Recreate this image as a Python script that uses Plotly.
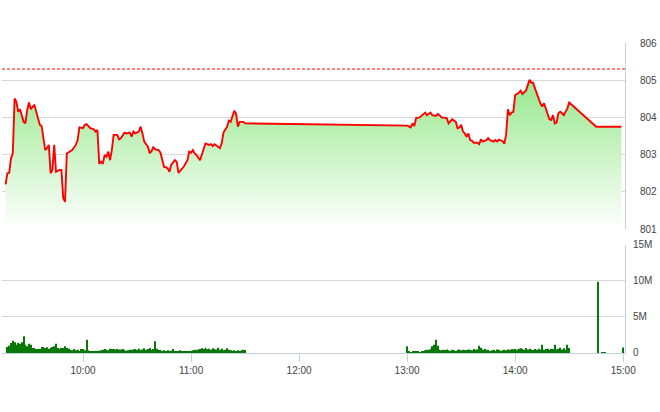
import pandas as pd
import plotly.graph_objects as go

DAY = "2024-01-02 "

# ---------------- data ----------------
ref_price = 805.3

price_times_am = [
    "09:17", "09:18", "09:19", "09:20", "09:21", "09:22", "09:23", "09:24", "09:25", "09:26",
    "09:27", "09:28", "09:29", "09:30", "09:31", "09:32", "09:33",
    "09:35", "09:36", "09:37", "09:38", "09:39", "09:40", "09:41", "09:42", "09:43", "09:44", "09:45",
    "09:47", "09:48", "09:49", "09:50", "09:51",
    "09:53", "09:54",
    "09:56", "09:57", "09:58",
    "10:00", "10:01", "10:02",
    "10:04",
    "10:06", "10:07", "10:08", "10:09", "10:10", "10:11", "10:12", "10:13", "10:14", "10:15", "10:16", "10:17",
    "10:19", "10:20", "10:21",
    "10:23", "10:24",
    "10:26", "10:27", "10:28", "10:29",
    "10:31", "10:32", "10:33", "10:34",
    "10:36", "10:37", "10:38", "10:39", "10:40",
    "10:42", "10:43",
    "10:45", "10:46", "10:47", "10:48", "10:49",
    "10:51", "10:52", "10:53",
    "10:55", "10:56",
    "10:58", "10:59", "11:00", "11:01", "11:02", "11:03",
    "11:05", "11:06", "11:07", "11:08",
    "11:10", "11:11", "11:12", "11:13",
    "11:15", "11:16", "11:17", "11:18",
    "11:20", "11:21", "11:22", "11:23", "11:24", "11:25", "11:26", "11:27",
    "11:29", "11:30",
]
price_am = [
    802.20, 802.50, 802.51, 802.90, 803.03, 804.51, 804.42, 804.15, 804.22, 804.06,
    803.88, 803.84, 804.20, 804.40, 804.22, 804.29, 804.33,
    803.98, 803.80, 803.77, 803.39, 803.12, 803.17, 803.26, 802.50, 802.59, 803.26, 802.54,
    802.59, 802.59, 801.83, 801.73, 803.03,
    803.08, 803.12,
    803.26, 803.39, 803.73,
    803.71, 803.80, 803.82,
    803.71,
    803.68, 803.62, 803.66, 802.75, 802.81, 802.75, 802.99, 802.94, 803.08, 802.85, 803.12, 803.53,
    803.53, 803.41, 803.44,
    803.59, 803.57,
    803.59, 803.48, 803.62, 803.57,
    803.62, 803.75, 803.57, 803.35,
    803.21, 803.05, 803.08, 803.21, 803.14,
    803.12, 803.05,
    802.67, 802.66, 802.63, 802.54, 802.72,
    802.85, 802.81, 802.51,
    802.63, 802.68,
    802.85, 803.08, 803.05, 803.12, 803.03, 802.99,
    802.85, 802.99, 803.17, 803.30,
    803.26, 803.28, 803.23, 803.28,
    803.21, 803.17, 803.30, 803.59,
    803.75, 803.91, 803.88, 804.06, 804.18, 804.10, 803.75, 803.88,
    803.88, 803.84,
]

price_times_pm = [
    "13:00", "13:02", "13:03", "13:04", "13:05", "13:07", "13:08", "13:10", "13:11", "13:13",
    "13:14", "13:16", "13:17", "13:18", "13:19", "13:21", "13:22", "13:23", "13:24", "13:25",
    "13:27", "13:28", "13:29", "13:30", "13:31", "13:32", "13:33", "13:34", "13:35", "13:36",
    "13:37", "13:39", "13:40", "13:41", "13:42", "13:44", "13:45", "13:46", "13:48", "13:49",
    "13:50", "13:51", "13:53", "13:54", "13:55", "13:56", "13:57", "13:58", "13:59", "14:00",
    "14:01", "14:02", "14:03", "14:04", "14:06", "14:07", "14:08", "14:09", "14:10", "14:11",
    "14:12", "14:13", "14:14", "14:15", "14:16", "14:17", "14:18", "14:19", "14:20", "14:21",
    "14:22", "14:23", "14:24", "14:25", "14:26", "14:27", "14:29", "14:30", "14:45", "14:59",
]
price_pm = [
    803.78, 803.73, 803.84, 803.77, 803.98, 804.00, 804.04, 804.13, 804.06, 804.13,
    804.06, 804.04, 804.09, 804.06, 804.00, 803.98, 803.98, 803.84, 803.91, 803.95,
    803.88, 803.71, 803.73, 803.80, 803.62, 803.57, 803.48, 803.57, 803.39, 803.37,
    803.32, 803.32, 803.28, 803.41, 803.35, 803.39, 803.44, 803.39, 803.35, 803.39,
    803.35, 803.40, 803.36, 803.29, 803.55, 804.22, 804.06, 804.13, 804.15, 804.60,
    804.63, 804.66, 804.72, 804.63, 804.72, 804.84, 805.01, 804.93, 804.93, 804.78,
    804.65, 804.49, 804.38, 804.29, 804.38, 804.24, 804.11, 803.95, 803.93, 804.06,
    803.84, 803.86, 804.11, 804.15, 804.11, 804.06, 804.24, 804.40, 803.75, 803.75,
]

# volume in millions, one bar per minute from the start time
vol_am_start = "09:18"
vol_am = [
    0.83, 1.02, 1.39, 1.71, 1.48, 1.16, 1.39, 1.30, 1.48, 2.31,
    1.16, 0.93, 1.30, 1.16, 0.69, 0.69, 0.56, 0.56, 0.56, 0.83,
    0.83, 0.69, 0.79, 0.60, 0.69, 0.83, 0.93, 1.30, 0.69, 0.56,
    0.69, 0.69, 0.93, 0.69, 0.60, 0.46, 0.37, 0.56, 0.37, 0.46,
    0.28, 0.56, 0.56, 0.37, 1.85, 0.37, 0.28, 0.23, 0.28, 0.32,
    0.23, 0.30, 0.37, 0.46, 0.56, 0.46, 0.37, 0.60, 0.56, 0.56,
    0.46, 0.56, 0.50, 0.50, 0.56, 0.40, 0.30, 0.37, 0.46, 0.40,
    0.50, 0.56, 0.46, 0.60, 0.37, 0.50, 0.65, 0.46, 0.56, 0.70,
    0.46, 0.56, 1.62, 0.60, 0.40, 0.46, 0.30, 0.37, 0.28, 0.37,
    0.28, 0.30, 0.56, 0.28, 0.23, 0.28, 0.37, 0.28, 0.23, 0.28,
    0.23, 0.28, 0.30, 0.37, 0.46, 0.37, 0.50, 0.56, 0.65, 0.60,
    0.74, 0.56, 0.60, 0.46, 0.65, 0.56, 0.50, 0.74, 0.46, 0.60,
    0.37, 0.46, 0.65, 0.46, 0.37, 0.30, 0.37, 0.28, 0.37, 0.30,
    0.37, 0.46, 0.40,
]
vol_pm_start = "13:00"
vol_pm = [
    0.93, 0.23, 0.14, 0.23, 0.19, 0.28, 0.19, 0.14, 0.23, 0.28,
    0.37, 0.46, 0.46, 0.60, 0.93, 1.16, 1.85, 1.00, 0.46, 0.37,
    0.46, 0.40, 0.50, 0.37, 0.30, 0.46, 0.37, 0.28, 0.40, 0.50,
    0.37, 0.46, 0.40, 0.37, 0.50, 0.46, 0.37, 0.56, 0.46, 0.50,
    1.02, 0.74, 0.46, 0.56, 0.37, 0.46, 0.28, 0.37, 0.46, 0.28,
    0.50, 0.46, 0.30, 0.37, 0.46, 0.37, 0.50, 0.46, 0.56, 0.50,
    0.56, 0.46, 0.60, 0.65, 0.56, 0.46, 0.70, 0.50, 0.60, 0.46,
    0.40, 0.56, 0.46, 0.60, 0.46, 1.16, 0.46, 0.56, 0.60, 0.40,
    0.60, 0.56, 1.16, 0.50, 0.60, 0.74, 0.50, 0.65, 0.46, 1.16,
    0.70,
]
vol_late_times = ["14:46", "14:48", "14:49", "14:50", "15:00"]
vol_late = [9.9, 0.14, 0.14, 0.10, 0.75]

x_ticks = ["10:00", "11:00", "12:00", "13:00", "14:00", "15:00"]
price_ticks = [801, 802, 803, 804, 805, 806]
vol_tickvals = [0, 5, 10, 15]
vol_ticktext = ["0", "5M", "10M", "15M"]
x_start, x_end = "09:15", "15:01"

# ---------------- build ----------------
def ts(lst):
    return pd.to_datetime([DAY + t for t in lst])

price_x = ts(price_times_am + price_times_pm)
price_y = price_am + price_pm

vol_x = list(pd.date_range(DAY + vol_am_start, periods=len(vol_am), freq="min")) + \
        list(pd.date_range(DAY + vol_pm_start, periods=len(vol_pm), freq="min")) + \
        list(ts(vol_late_times))
vol_y = vol_am + vol_pm + vol_late

FONT = "Arial, 'Liberation Sans', sans-serif"
GRID = "#d9d9d9"
AXL = "#c4d0de"

fig = go.Figure()
fig.add_trace(go.Scatter(
    x=price_x, y=price_y, mode="lines",
    line=dict(color="#ff0000", width=1.9),
    fill="tozeroy",
    fillgradient=dict(type="vertical",
                      colorscale=[[0, "rgba(255,255,255,1)"], [1, "rgb(148,232,138)"]],
                      start=801, stop=805.1),
    xaxis="x", yaxis="y", hoverinfo="skip",
))
fig.add_trace(go.Bar(
    x=vol_x, y=vol_y, width=30000,
    marker=dict(color="#067806", line=dict(width=0)),
    xaxis="x2", yaxis="y2", hoverinfo="skip",
))

fig.add_shape(type="line", xref="x domain", x0=0, x1=1, yref="y", y0=ref_price, y1=ref_price,
              line=dict(color="#ff0000", width=1, dash="3px,2px"))

rng = [DAY + x_start, DAY + x_end]
fig.update_layout(
    width=660, height=412,
    margin=dict(l=2, r=35, t=43, b=59),
    paper_bgcolor="white", plot_bgcolor="white",
    showlegend=False,
    font=dict(family=FONT, size=10, color="#444"),
    xaxis=dict(domain=[0, 1], anchor="y", type="date", range=rng,
               showticklabels=False, showgrid=False, ticks="", showline=False, zeroline=False),
    xaxis2=dict(domain=[0, 1], anchor="y2", type="date", range=rng,
                tickvals=ts(x_ticks), tickformat="%H:%M",
                ticks="outside", ticklen=8, tickcolor=AXL, tickwidth=1,
                showline=True, linecolor=AXL, linewidth=1,
                showgrid=False, zeroline=False,
                tickfont=dict(family=FONT, size=10, color="#444")),
    yaxis=dict(domain=[0.4, 1], anchor="x", range=[801, 806], side="right",
               tickvals=price_ticks, showgrid=True, gridcolor=GRID, gridwidth=1,
               showline=True, linecolor=AXL, linewidth=1, zeroline=False,
               ticks="", ticklabelstandoff=12,
               tickfont=dict(family=FONT, size=10, color="#444")),
    yaxis2=dict(domain=[0, 0.3484], anchor="x2", range=[0, 15], side="right",
                tickvals=vol_tickvals, ticktext=vol_ticktext,
                showgrid=True, gridcolor=GRID, gridwidth=1,
                showline=True, linecolor=AXL, linewidth=1, zeroline=False,
                ticks="", ticklabelstandoff=5,
                tickfont=dict(family=FONT, size=10, color="#444")),
)

fig.write_html("out.html", config={"displayModeBar": False},
               post_script="document.body.style.margin='0px';")
